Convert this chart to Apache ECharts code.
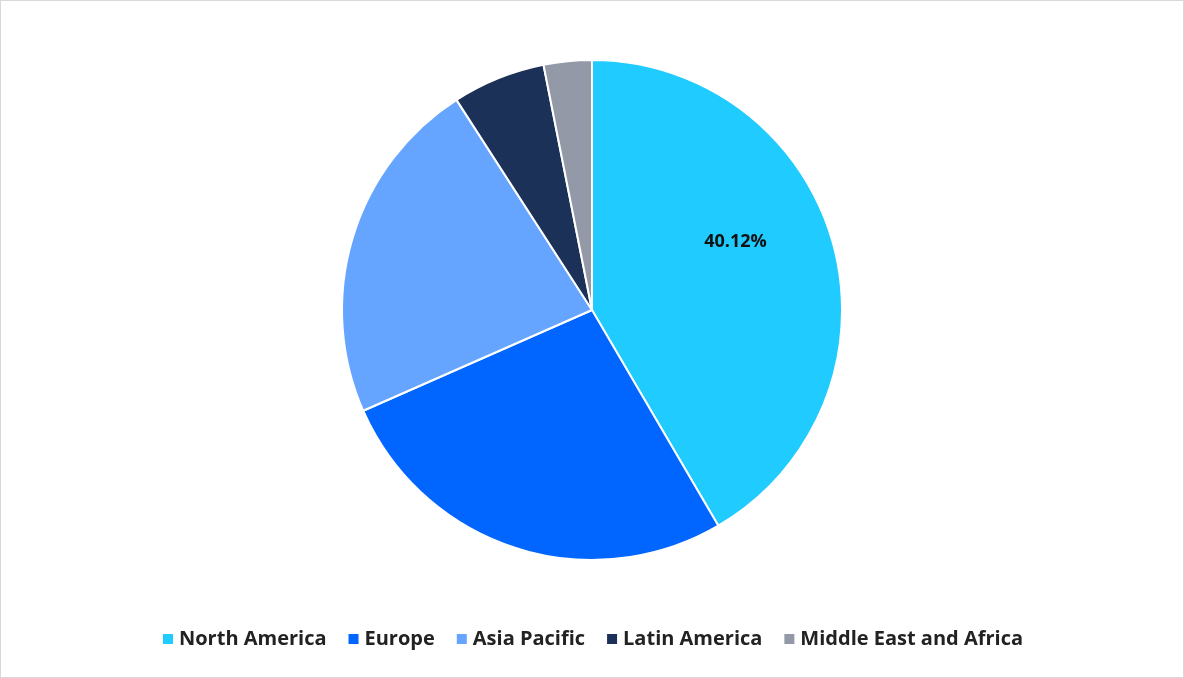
<!DOCTYPE html>
<html><head><meta charset="utf-8">
<script src="https://cdn.jsdelivr.net/npm/echarts@6/dist/echarts.min.js"></script>
<style>html,body{margin:0;padding:0;background:#fff}#c{width:1182px;height:676px;border:1px solid #d9d9d9}</style>
</head><body><div id="c"></div>
<script>
const categories=['North America','Europe','Asia Pacific','Latin America','Middle East and Africa'];
const values=[40.12,25.9,21.7,5.8,3.0];
const colors=['#1FCBFF','#0066FF','#66A5FF','#1C3157','#9399A6'];
const chart=echarts.init(document.getElementById('c'));
chart.setOption({
  animation:false,
  color:colors,
  legend:{bottom:23,left:'center',itemWidth:12,itemHeight:12,icon:'rect',itemGap:20,
    textStyle:{fontFamily:'Open Sans',fontWeight:'bold',fontSize:20,color:'#222'},data:categories},
  series:[{type:'pie',center:[591,309],radius:250,startAngle:90,clockwise:true,
    itemStyle:{borderColor:'#fff',borderWidth:2},
    label:{show:true,position:'inside',fontFamily:'Open Sans',fontWeight:'bold',fontSize:18,color:'#111',
      formatter:p=>p.dataIndex===0?p.value.toFixed(2)+'%':''},
    labelLine:{show:false},
    data:categories.map((n,i)=>({name:n,value:values[i],label:i===0?{offset:[20,-35]}:{}}))}]
});
</script></body></html>
